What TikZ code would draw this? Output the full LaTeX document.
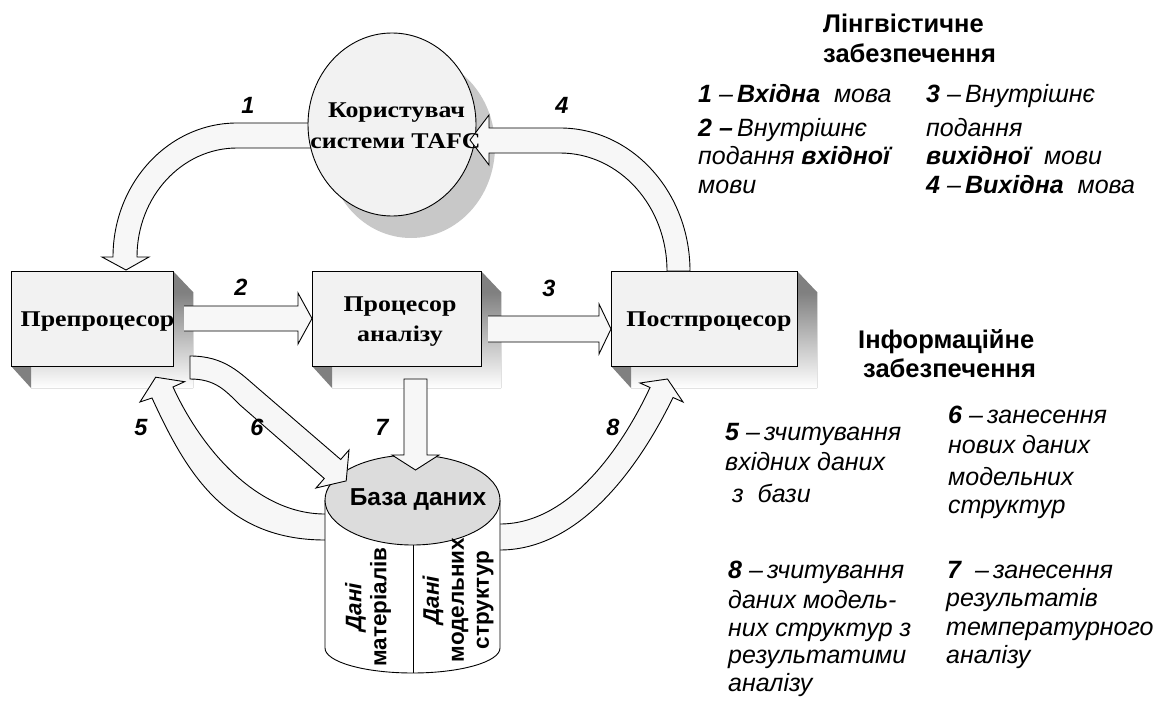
\documentclass[tikz,border=0pt]{standalone}
\usepackage{fontspec}
\setmainfont{Liberation Sans}
\newfontfamily\timesb{Liberation Serif}[FakeStretch=1.15]
\definecolor{front}{HTML}{F2F2F2}
\definecolor{shade}{HTML}{C6C6C6}
\definecolor{darkside}{HTML}{808080}
\definecolor{arrowfill}{HTML}{F7F7F7}
\definecolor{dbtop}{HTML}{DCDCDC}
\definecolor{circshadow}{HTML}{C8C8C8}
\newcommand\threedbox[4]{%
  \fill[shade] (#3,#2+21) -- (#3+20,#2+21) -- (#3+20,#4+22) -- (#1+20,#4+22) -- (#1+20,#4) -- (#3,#4) -- cycle;
  \fill[darkside] (#3,#2) -- (#3+20,#2+21) -- (#3,#2+21) -- cycle;
  \fill[darkside] (#1,#4) -- (#1+20,#4+22) -- (#1+20,#4) -- cycle;
  \draw[ln, fill=front] (#1,#2) rectangle (#3,#4);}
\begin{document}
\begin{tikzpicture}[x=1pt,y=-1pt,
  ln/.style={line width=0.9pt, line join=miter},
  blk/.style={ln, draw=black, fill=arrowfill},
  bt/.style={font=\timesb\bfseries\fontsize{22.5}{26}\selectfont, anchor=base, inner sep=0pt},
  num/.style={font=\bfseries\itshape\fontsize{23.5}{26}\selectfont, anchor=base, inner sep=0pt},
  lg/.style={font=\itshape\fontsize{25}{28}\selectfont, anchor=base west, inner sep=0pt},
  hd/.style={font=\bfseries\fontsize{25.5}{28}\selectfont, anchor=base west, inner sep=0pt},
  vt/.style={font=\bfseries\fontsize{22.5}{25}\selectfont, align=center, rotate=90, inner sep=0pt}]
\useasboundingbox (0,0) rectangle (1163,706);

% boxes
\threedbox{11}{271}{173}{366}
\threedbox{312}{271}{481}{366}
\threedbox{611}{271}{797}{366}

% circle shadow
\fill[circshadow] (411,146.5) ellipse [x radius=84, y radius=91.5];
% arrow 1
\filldraw[blk] (320,123) -- (237,123) .. controls (168.5,123) and (113,183) .. (113,257)
  -- (102,257) -- (126,270) -- (149,257) -- (137,257)
  .. controls (137,196.8) and (181.8,148) .. (237,148) -- (320,148);
% circle
\draw[ln, fill=front] (392,124.5) ellipse [x radius=84, y radius=91.5];
% arrow 4
\filldraw[blk] (690,271) .. controls (690,192) and (631.8,128) .. (560,128) -- (489,128)
  -- (489,115) -- (470,140) -- (489,165) -- (489,153) -- (560,153)
  .. controls (619.1,153) and (667,205.8) .. (667,271) -- cycle;

% arrow 5
\filldraw[blk] (335,514) -- (325,514) .. controls (255,514) and (200,446) .. (173,387)
  -- (184.6,381.7) -- (155.7,377.2) -- (140,402) -- (152,398)
  .. controls (186,472) and (225,540) .. (325,540) -- (335,540);
% arrow 8
\filldraw[blk] (490,524) -- (500,524) .. controls (575,524) and (628,435) .. (650,387.5)
  -- (640,383) -- (667.5,379) -- (683,402) -- (673,397.5)
  .. controls (650,445) and (590,550) .. (500,550) -- (490,550);

% database cylinder
\draw[ln, fill=white] (325,500) -- (325,648) .. controls (325,661.8) and (364.2,673) .. (412.5,673)
  .. controls (460.8,673) and (500,661.8) .. (500,648) -- (500,500);
\draw[ln, fill=dbtop] (412.5,500) ellipse [x radius=87.5, y radius=45];
\draw[line width=0.9pt] (413,545) -- (413,673);

% arrow 6
\filldraw[blk] (190,356) .. controls (225,356) and (240,373) .. (260,390) -- (340.7,459.5)
  -- (349,450) -- (346.2,480.9) -- (316,488) -- (324.3,478.5) -- (240,405)
  .. controls (225,390) and (215,379) .. (190,379) -- cycle;
% arrow 7
\filldraw[blk] (404,379) -- (404,455) -- (392,455) -- (415.5,470) -- (439,455) -- (427,455) -- (427,379) -- cycle;
% arrow 2
\filldraw[blk] (184,306) -- (298,306) -- (298,293) -- (312,318.5) -- (298,344) -- (298,331) -- (184,331);
% arrow 3
\filldraw[blk] (488,316) -- (599,316) -- (599,304) -- (611,329) -- (599,354) -- (599,342) -- (488,342);

% node texts
\node[bt] (pre) at (97.5,326) {Препроцесор};
\node[bt] (proc1) at (400,311.7) {Процесор};
\node[bt] (proc2) at (400,341.7) {аналізу};
\node[bt] (post) at (709,326.7) {Постпроцесор};
\node[bt] (user1) at (396.5,117.3) {Користувач};
\node[bt] (user2) at (395.5,148.3) {системи ТАFC};
\node[font=\bfseries\fontsize{24.5}{26}\selectfont, anchor=base, inner sep=0pt] (db) at (418,505) {База даних};
\node[vt] (dm) at (368,607) {\textit{Дані}\\матеріалів};
\node[vt] (ds) at (458,600) {\textit{Дані}\\модельних\\структур};

% numbers
\node[num] (n1) at (248,113.3) {1};
\node[num] (n4) at (562,113.3) {4};
\node[num] (n2) at (241,295.7) {2};
\node[num] (n3) at (549,296) {3};
\node[num] (n5) at (141,435) {5};
\node[num] (n6) at (257,435) {6};
\node[num] (n7) at (382,435) {7};
\node[num] (n8) at (613,435) {8};

% linguistic legend
\node[hd] (lh1) at (823,33) {Лінгвістичне};
\node[hd] (lh2) at (823,63) {забезпечення};
\node[lg] (l1) at (698,103) {\textbf{1} –\,\textbf{Вхідна}\ \ мова};
\node[lg] (l2) at (698,137) {\textbf{2 –}\,Внутрішнє};
\node[lg] (l3) at (698,165) {подання \textbf{вхідної}};
\node[lg] (l4) at (698,194) {мови};
\node[lg] (r1) at (926,103) {\textbf{3} –\,Внутрішнє};
\node[lg] (r2) at (926,137) {подання};
\node[lg] (r3) at (926,165) {\textbf{вихідної}\ \ мови};
\node[lg] (r4) at (926,194) {\textbf{4} –\,\textbf{Вихідна}\ \ мова};

% information legend
\node[hd] (ih1) at (858,348) {Інформаційне};
\node[hd] (ih2) at (863,377) {забезпечення};
\node[lg] (a1) at (725,440) {\textbf{5} –\,зчитування};
\node[lg] (a2) at (725,470) {вхідних даних};
\node[lg] (a3) at (732,502) {з\ \ бази};
\node[lg] (b1) at (948,423.3) {\textbf{6} –\,занесення};
\node[lg] (b2) at (948,453.3) {нових даних};
\node[lg] (b3) at (948,485) {модельних};
\node[lg] (b4) at (948,513.3) {структур};
\node[lg] (c1) at (728,578.3) {\textbf{8} –\,зчитування};
\node[lg] (c2) at (728,608.3) {даних модель-};
\node[lg] (c3) at (728,636) {них структур з};
\node[lg] (c4) at (728,663) {результатими};
\node[lg] (c5) at (728,691.7) {аналізу};
\node[lg] (d1) at (947,578.3) {\textbf{7}\ \ –\,занесення};
\node[lg] (d2) at (946,606.7) {результатів};
\node[lg] (d3) at (946,635) {температурного};
\node[lg] (d4) at (946,663) {аналізу};
\end{tikzpicture}
\end{document}
